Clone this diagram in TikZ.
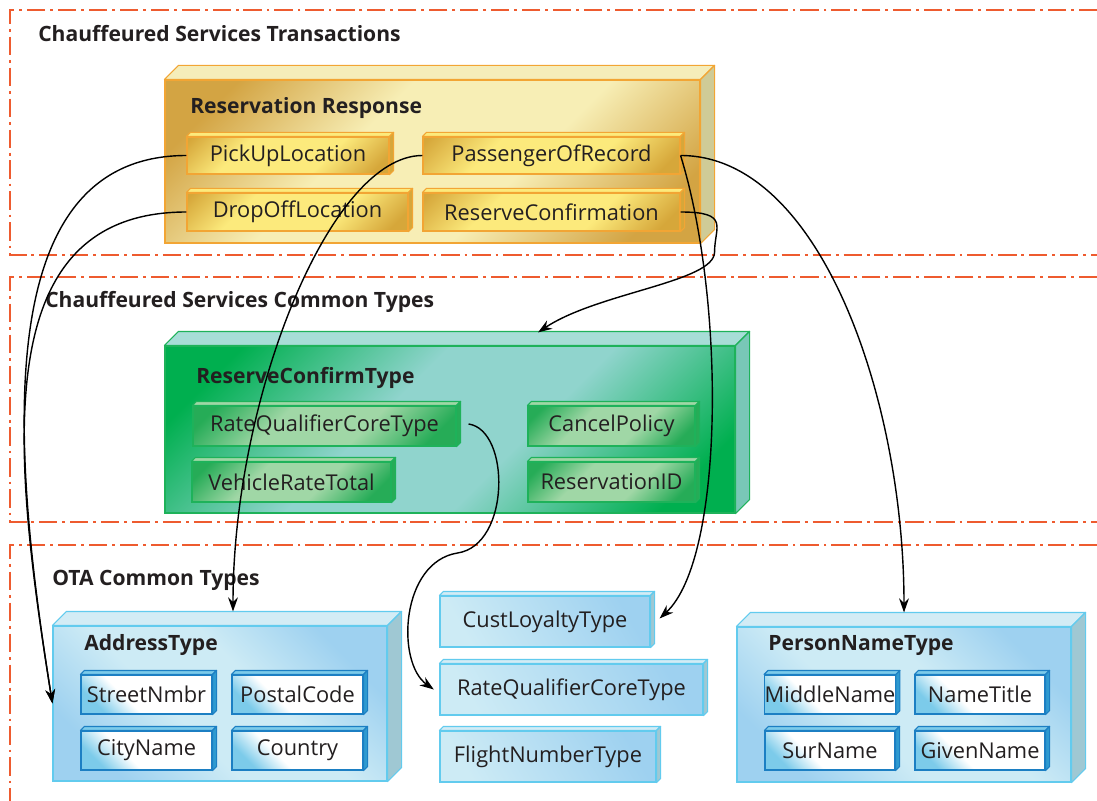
\documentclass[tikz,border=0pt]{standalone}
\usepackage{fontspec}
\setmainfont{Open Sans}
\usetikzlibrary{arrows.meta}

\definecolor{dashred}{HTML}{EE5B2F}
\definecolor{txt}{HTML}{231F20}
\definecolor{yline}{HTML}{F2A534}
\definecolor{ydark}{HTML}{D3A443}
\definecolor{ylight}{HTML}{F7EEB5}
\definecolor{ytop}{HTML}{F5EDBA}
\definecolor{yside}{HTML}{CFCB97}
\definecolor{yidark}{HTML}{D6A73A}
\definecolor{yilight}{HTML}{FCEA7C}
\definecolor{gline}{HTML}{1EB25A}
\definecolor{gdark}{HTML}{00AF4F}
\definecolor{glight}{HTML}{90D4CD}
\definecolor{gtop}{HTML}{A7DDD7}
\definecolor{gside}{HTML}{79C7B7}
\definecolor{gidark}{HTML}{26AC57}
\definecolor{gilight}{HTML}{A0D7A6}
\definecolor{bline}{HTML}{62CBEE}
\definecolor{bdark}{HTML}{9ED1F0}
\definecolor{blight}{HTML}{CDEBF5}
\definecolor{btop}{HTML}{D3ECF5}
\definecolor{bside}{HTML}{9FC8D3}
\definecolor{wline}{HTML}{1C7FC3}
\definecolor{wblue}{HTML}{7CCBEA}
\definecolor{wside}{HTML}{2E9AD0}

\pgfdeclareverticalshading{yfront}{100bp}{color(0bp)=(ydark); color(22bp)=(ydark); color(40bp)=(ylight); color(60bp)=(ylight); color(78bp)=(ydark); color(100bp)=(ydark)}
\pgfdeclareverticalshading{yifront}{100bp}{color(0bp)=(yidark); color(20bp)=(yidark); color(38bp)=(yilight); color(66bp)=(yilight); color(84bp)=(yidark); color(100bp)=(yidark)}
\pgfdeclareverticalshading{gfront}{100bp}{color(0bp)=(gdark); color(22bp)=(gdark); color(42bp)=(glight); color(58bp)=(glight); color(78bp)=(gdark); color(100bp)=(gdark)}
\pgfdeclareverticalshading{gifront}{100bp}{color(0bp)=(gidark); color(22bp)=(gidark); color(40bp)=(gilight); color(62bp)=(gilight); color(80bp)=(gidark); color(100bp)=(gidark)}
\pgfdeclareverticalshading{bfront}{100bp}{color(0bp)=(bdark); color(25bp)=(bdark); color(42bp)=(blight); color(58bp)=(blight); color(75bp)=(bdark); color(100bp)=(bdark)}
\pgfdeclareverticalshading{wfront}{100bp}{color(0bp)=(wblue); color(25bp)=(wblue); color(40bp)=(white); color(100bp)=(white)}

% top and side faces behind a front node
\newcommand{\cuboid}[5]{%
  \filldraw[draw=#5, fill=#3, line width=0.8pt, line join=round]
    (#1.north west) -- ++(#2,-#2) -- ([shift={(#2,-#2)}]#1.north east) -- (#1.north east) -- cycle;
  \filldraw[draw=#5, fill=#4, line width=0.8pt, line join=round]
    (#1.north east) -- ([shift={(#2,-#2)}]#1.north east) -- ([shift={(#2,-#2)}]#1.south east) -- (#1.south east) -- cycle;}

\begin{document}
\begin{tikzpicture}[x=0.025cm, y=-0.025cm, font=\fontsize{15.5}{18}\selectfont, text=txt]
\tikzset{dims/.style 2 args={minimum width=#1*0.025cm, minimum height=#2*0.025cm}}
\tikzstyle{layer}=[draw=dashred, line width=1pt, dash pattern=on 13pt off 3.5pt on 2pt off 3.5pt]
\tikzstyle{front}=[rectangle, inner sep=0pt, line width=0.8pt, shade]
\tikzstyle{ybig}=[front, draw=yline, shading=yfront, shading angle=45]
\tikzstyle{yitem}=[front, draw=yline, shading=yifront, shading angle=45]
\tikzstyle{gbig}=[front, draw=gline, shading=gfront, shading angle=45]
\tikzstyle{gitem}=[front, draw=gline, shading=gifront, shading angle=45]
\tikzstyle{bbig}=[front, draw=bline, shading=bfront, shading angle=-45]
\tikzstyle{bitem}=[front, draw=bline, left color=blight, right color=bdark, shading angle=120]
\tikzstyle{witem}=[front, draw=wline, shading=wfront, shading angle=-45]
\tikzstyle{title}=[anchor=west, inner sep=0pt, font=\fontsize{15}{18}\selectfont\bfseries]
\tikzstyle{link}=[draw=black, line width=1pt, -{Stealth[length=10pt,width=7pt]}]

\useasboundingbox (0,0) rectangle (1097,801);

% layers
\draw[layer] (1097,10) -| (10,255) -- (1097,255);
\draw[layer] (1097,277) -| (10,522) -- (1097,522);
\draw[layer] (1097,545) -| (10,801);
\node[title] (t1) at (38,34) {Chauffeured Services Transactions};
\node[title] (t2) at (45,302) {Chauffeured Services Common Types};
\node[title] (t3) at (52,580) {OTA Common Types};

% transactions
\node[ybig, dims={535}{163}] (resp) at (432.5,161.5) {};
\cuboid{resp}{14}{ytop}{yside}{yline}
\node[title] (respT) at (190,108) {Reservation Response};
\node[yitem, dims={202}{37}] (pick) at (288,155.5) {PickUpLocation};
\cuboid{pick}{4}{yilight}{yidark}{yline}
\node[yitem, dims={257}{37}] (pass) at (551.5,155.5) {PassengerOfRecord};
\cuboid{pass}{4}{yilight}{yidark}{yline}
\node[yitem, dims={221}{38}] (drop) at (297.5,212) {DropOffLocation};
\cuboid{drop}{4}{yilight}{yidark}{yline}
\node[yitem, dims={257}{38}] (rconf) at (551.5,212) {ReserveConfirmation};
\cuboid{rconf}{4}{yilight}{yidark}{yline}

% common types
\node[gbig, dims={570}{167}] (conf) at (450,429.5) {};
\cuboid{conf}{14}{gtop}{gside}{gline}
\node[title] (confT) at (196,378) {ReserveConfirmType};
\node[gitem, dims={263}{40}] (rqc) at (324.5,426) {RateQualifierCoreType};
\cuboid{rqc}{4}{gilight}{gidark}{gline}
\node[gitem, dims={199}{40}] (veh) at (291.5,482) {VehicleRateTotal};
\cuboid{veh}{4}{gilight}{gidark}{gline}
\node[gitem, dims={167}{40}] (cancel) at (611.5,426) {CancelPolicy};
\cuboid{cancel}{4}{gilight}{gidark}{gline}
\node[gitem, dims={167}{40}] (resid) at (611.5,482) {ReservationID};
\cuboid{resid}{4}{gilight}{gidark}{gline}

% OTA types
\node[bbig, dims={334}{155}] (addr) at (220,703.5) {};
\cuboid{addr}{14}{btop}{bside}{bline}
\node[title] (addrT) at (84,645) {AddressType};
\node[witem, dims={131}{39}] (street) at (146.5,694.5) {StreetNmbr};
\node[witem, dims={131}{39}] (postal) at (297.5,694.5) {PostalCode};
\node[witem, dims={131}{39}] (city) at (146.5,750.5) {CityName};
\node[witem, dims={131}{39}] (country) at (297.5,750.5) {Country};
\foreach \n in {street,postal,city,country}
  \cuboid{\n}{4}{wblue}{wside}{wline};

\node[bitem, dims={210}{51}] (cust) at (545,621.5) {CustLoyaltyType};
\cuboid{cust}{4}{btop}{bside}{bline}
\node[bitem, dims={263}{51}] (rqb) at (571.5,689.5) {RateQualifierCoreType};
\cuboid{rqb}{4}{btop}{bside}{bline}
\node[bitem, dims={216}{51}] (flight) at (548,756.5) {FlightNumberType};
\cuboid{flight}{4}{btop}{bside}{bline}

\node[bbig, dims={334}{155}] (pers) at (904,704.5) {};
\cuboid{pers}{14}{btop}{bside}{bline}
\node[title] (persT) at (768,645) {PersonNameType};
\node[witem, dims={130}{39}] (middle) at (830,694.5) {MiddleName};
\node[witem, dims={130}{39}] (ntitle) at (980,694.5) {NameTitle};
\node[witem, dims={130}{39}] (sur) at (830,750.5) {SurName};
\node[witem, dims={130}{39}] (given) at (980,750.5) {GivenName};
\foreach \n in {middle,ntitle,sur,given}
  \cuboid{\n}{4}{wblue}{wside}{wline};

% references
\draw[link] (pick.west) .. controls +(-200,0) and +(-40,-250) .. (addr.west);
\draw[link] (drop.west) .. controls +(-200,0) and +(-40,-250) .. (addr.west);
\draw[link] (pass.west) .. controls +(-93,0) and +(0,-212) .. ([shift={(13,-14)}]addr.north);
\draw[link] (pass.east) .. controls +(140,0) and +(0,-212) .. ([shift={(0,-14)}]pers.north);
\draw[link] (pass.east) .. controls +(45,145) and +(65,-60) .. ([shift={(9,-3)}]cust.east);
\draw[link] (rconf.east) .. controls +(50,0) and +(0,-25) .. ++(34,40)
  .. controls +(0,30) and +(60,-40) .. ([shift={(88,-13)}]conf.north);
\draw[link] ([shift={(12,-2)}]rqc.east) .. controls +(42,6) and +(53,-8) .. ++(-11,129)
  .. controls +(-57,9) and +(-38,-27) .. ([xshift=-4]rqb.west);
\end{tikzpicture}
\end{document}
